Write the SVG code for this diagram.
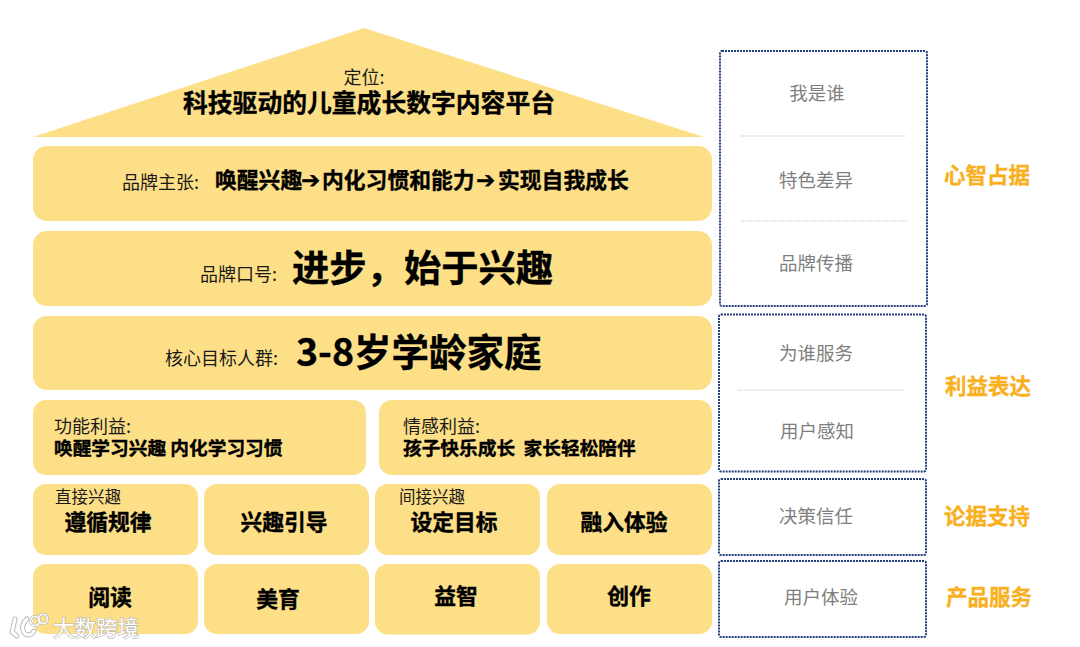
<svg xmlns="http://www.w3.org/2000/svg" width="1080" height="647" viewBox="0 0 1080 647">
<style>
text{font-family:"Noto Sans CJK SC","DejaVu Sans",sans-serif}
.y{fill:#fddf88}
.n{fill:#1a1a1a;font-size:18px}
.t{fill:#1a1a1a;font-size:16.500px}
.b{fill:#000;font-weight:700;stroke:#000;stroke-width:.35}
.s{fill:#7f7f7f;font-size:18.500px;text-anchor:middle}
.o{fill:#f9b01e;font-weight:700;font-size:21.500px;text-anchor:middle;stroke:#f9b01e;stroke-width:.3}
.f{fill:none;stroke:#24407c;stroke-width:2;stroke-dasharray:2 1}
.d{stroke:#bdbdbd;stroke-width:1;stroke-dasharray:1 1}
.m{text-anchor:middle}
.a{font-family:"DejaVu Sans",sans-serif;font-size:23px}
.w{fill:#fff;stroke:#b5b5b5;stroke-width:1.2;paint-order:stroke;font-size:21.500px}
.l{fill:none;stroke:#fff;stroke-linecap:round}
.ls{fill:none;stroke:#bbb;stroke-linecap:round}
</style>
<rect width="1080" height="647" fill="#fff"/>
<g id="roof"><polygon class="y" points="364,28 704,137 33,137"/>
<text class="n m" x="364" y="84">定位:</text>
<text class="b m" x="369" y="112" font-size="24.800">科技驱动的儿童成长数字内容平台</text></g>
<g id="claim"><rect class="y" x="33" y="146" width="679" height="75" rx="14"/>
<text class="n" x="122" y="189">品牌主张:</text>
<text class="b" font-size="21.800" y="188"><tspan x="215">唤醒兴趣</tspan><tspan class="a" x="301">➔</tspan><tspan x="322">内化习惯和能力</tspan><tspan class="a" x="476">➔</tspan><tspan x="498">实现自我成长</tspan></text></g>
<g id="slogan"><rect class="y" x="33" y="231" width="679" height="75" rx="14"/>
<text class="n" x="200" y="281">品牌口号:</text>
<text class="b" x="292" y="282" font-size="37.300">进步&#xFF0C;始于兴趣</text></g>
<g id="target"><rect class="y" x="33" y="316" width="679" height="74" rx="14"/>
<text class="n" x="165" y="365">核心目标人群:</text>
<text class="b" x="296" y="366" font-size="37.500">3-8岁学龄家庭</text></g>
<g id="func"><rect class="y" x="33" y="400" width="333" height="75" rx="13"/>
<text class="n" x="54" y="433">功能利益:</text>
<text class="b" x="54" y="455" font-size="18.700">唤醒学习兴趣 内化学习习惯</text></g>
<g id="emo"><rect class="y" x="379" y="400" width="333" height="75" rx="13"/>
<text class="n" x="403" y="433">情感利益:</text>
<text class="b" x="403" y="455" font-size="18.700" xml:space="preserve">孩子快乐成长  家长轻松陪伴</text></g>
<g id="c1"><rect class="y" x="33" y="484" width="165" height="71" rx="13"/>
<text class="t" x="55" y="503">直接兴趣</text>
<text class="b m" x="108" y="530" font-size="21.800">遵循规律</text></g>
<g id="c2"><rect class="y" x="204" y="484" width="165" height="71" rx="13"/>
<text class="b m" x="284" y="530" font-size="21.800">兴趣引导</text></g>
<g id="c3"><rect class="y" x="375" y="484" width="165" height="71" rx="13"/>
<text class="t" x="399" y="503">间接兴趣</text>
<text class="b m" x="454" y="530" font-size="21.800">设定目标</text></g>
<g id="c4"><rect class="y" x="547" y="484" width="165" height="71" rx="13"/>
<text class="b m" x="624" y="530" font-size="21.800">融入体验</text></g>
<g id="p1"><rect class="y" x="33" y="564" width="165" height="70" rx="13"/>
<text class="b m" x="110" y="605" font-size="21.800">阅读</text></g>
<g id="p2"><rect class="y" x="204" y="564" width="165" height="70" rx="13"/>
<text class="b m" x="278" y="607" font-size="21.800">美育</text></g>
<g id="p3"><rect class="y" x="375" y="564" width="165" height="70.500" rx="13"/>
<text class="b m" x="456" y="604" font-size="21.800">益智</text></g>
<g id="p4"><rect class="y" x="547" y="564" width="165" height="70" rx="13"/>
<text class="b m" x="629" y="604" font-size="21.800">创作</text></g>
<g id="mind"><rect class="f" x="720" y="51" width="207" height="255" rx="2"/>
<text class="s" x="817" y="100">我是谁</text><line class="d" x1="741" y1="136" x2="907" y2="136"/>
<text class="s" x="816" y="187">特色差异</text><line class="d" x1="741" y1="221" x2="907" y2="221"/>
<text class="s" x="816" y="270">品牌传播</text>
<text class="o" x="987" y="183">心智占据</text></g>
<g id="benefit"><rect class="f" x="719" y="314.500" width="207" height="157" rx="2"/>
<text class="s" x="816" y="360">为谁服务</text><line class="d" x1="738" y1="390" x2="903" y2="390"/>
<text class="s" x="817" y="438">用户感知</text>
<text class="o" x="988" y="394">利益表达</text></g>
<g id="proof"><rect class="f" x="719" y="479" width="207" height="76" rx="2"/>
<text class="s" x="816" y="523">决策信任</text>
<text class="o" x="987" y="524">论据支持</text></g>
<g id="service"><rect class="f" x="719" y="561" width="207" height="76" rx="2"/>
<text class="s" x="821" y="604">用户体验</text>
<text class="o" x="989" y="605">产品服务</text></g>
<g id="watermark">
<path class="ls" stroke-width="5" d="M15 619 L12 632 L17 636 M27 619 Q20 625 24 633 Q30 638 34 631"/>
<circle class="ls" cx="35" cy="621" r="4.500" stroke-width="3"/><circle class="ls" cx="43" cy="619" r="4.500" stroke-width="3"/>
<path class="l" stroke-width="3" d="M15 619 L12 632 L17 636 M27 619 Q20 625 24 633 Q30 638 34 631"/>
<circle class="l" cx="35" cy="621" r="4.500" stroke-width="1.500"/><circle class="l" cx="43" cy="619" r="4.500" stroke-width="1.500"/>
<text class="w" x="53" y="636">大数跨境</text></g>
<g id="connectors"/>
</svg>
